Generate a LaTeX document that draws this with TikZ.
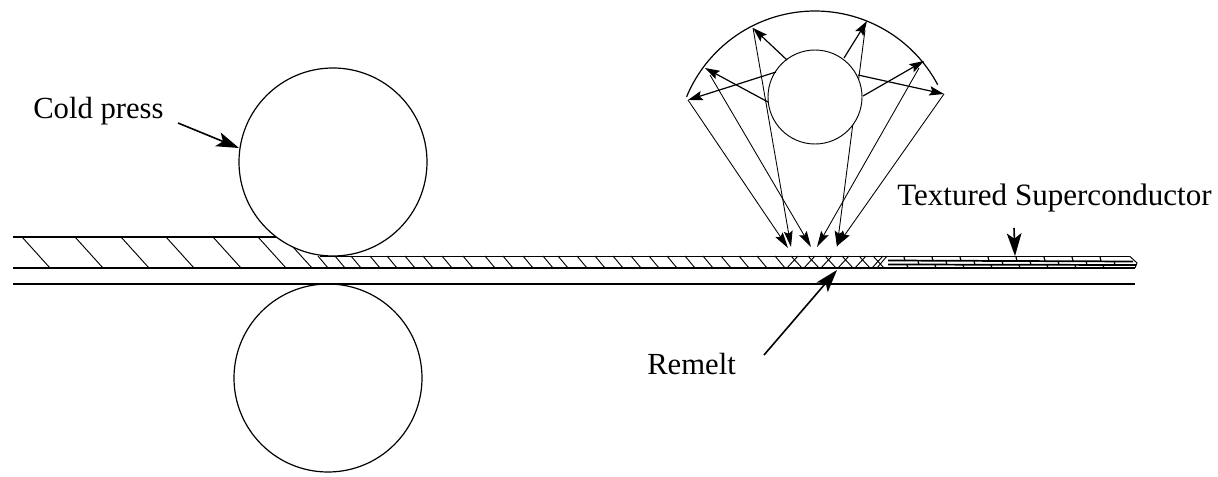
\documentclass[tikz,border=0pt]{standalone}
\usepackage{fontspec}
\setmainfont{Liberation Serif}
\usetikzlibrary{arrows.meta}
\tikzset{
  x=0.75pt,y=-0.75pt,
  ln/.style={line width=1pt,black},
  hatch/.style={line width=0.7pt,black},
  ray/.style={line width=0.9pt,black,-{Stealth[length=11pt,width=7pt,inset=2pt]}},
  fan/.style={line width=0.65pt,black,-{Stealth[length=12pt,width=6.5pt,inset=2pt]}},
  lead/.style={line width=1.2pt,black,-{Stealth[length=17pt,width=11pt,inset=4pt]}},
  lbl/.style={inner sep=0pt,font=\fontsize{23}{26}\selectfont},
}
\begin{document}
\begin{tikzpicture}
\useasboundingbox (0,0) rectangle (1218,477);
% rollers
\node[circle,draw,line width=0.9pt,minimum size=141pt,inner sep=0pt] (upper) at (333,162) {};
\node[circle,draw,line width=0.9pt,minimum size=141pt,inner sep=0pt] (lower) at (328,378) {};
% strip
\draw[ln] (13,237) -- (276,237);
\draw[ln] (320,256.5) -- (1130,256.5);
\draw[ln] (13,268) -- (1135,268);
\draw[ln] (13,284) -- (1135,284);
% coarse hatching
\foreach \b in {50,103,149,194,241,286}
  \draw[hatch] (\b-28,237) -- (\b,268);
\draw[hatch] (293,247) -- (312,268);
% fine hatching
\foreach \b in {328,345,361,380,397,415,433,452,473,495,513,533,553,568,587,605,623,...,785}
  \draw[hatch] (\b-10,256) -- (\b,268);
% cross hatching
\foreach \b in {802,819,836,853,870,884}
  \draw[hatch] (\b-11,256) -- (\b,268);
\foreach \b in {787,804,821,838,855,872}
  \draw[hatch] (\b+11,256) -- (\b,268);
\draw[hatch] (887,256) -- (877,268);
% textured part
\draw[line width=1.3pt] (888,260.5) -- (1133,261.5);
\draw[line width=1.3pt] (888,264.5) -- (1136,265);
\draw[hatch] (1130,256.5) -- (1137,263) -- (1135,268);
\foreach \t in {904,932,960,988,1016,1044,1072,1100}
  \draw[line width=0.9pt] (\t,257) -- (\t+1,261);
\foreach \t in {918,946,974,1002,1030,1058,1086,1114}
  \draw[line width=0.9pt] (\t,261) -- (\t+1,265);
\foreach \t in {904,932,960,988,1016,1044,1072,1100}
  \draw[line width=0.9pt] (\t+3,265) -- (\t+4,268);
% reflector
\coordinate (a1) at (688,100); \coordinate (a2) at (705,68);
\coordinate (a3) at (753,28);  \coordinate (a4) at (867,21);
\coordinate (a5) at (924,61);  \coordinate (a6) at (944,94);
\coordinate (s1) at (710,75);  \coordinate (s4) at (865,30);
\coordinate (s5) at (919,68);
\coordinate (t1) at (788,248); \coordinate (t2) at (811,247);
\coordinate (t3) at (791,247); \coordinate (t4) at (837,247);
\coordinate (t5) at (817,247); \coordinate (t6) at (837,246);
\draw[line width=0.9pt,domain=157.5:28,samples=60,variable=\q]
  plot ({815+139*cos(\q)},{150-139*sin(\q)});
\draw[fan] (a1) -- (t1);
\draw[fan] (s1) -- (t2);
\draw[fan] (a3) -- (t3);
\draw[fan] (s4) -- (t4);
\draw[fan] (s5) -- (t5);
\draw[fan] (a6) -- (t6);
% source
\node[circle,draw,fill=white,line width=0.7pt,minimum size=70.5pt,inner sep=0pt] (src) at (815,97) {};
\coordinate (r1) at (776,72); \coordinate (r2) at (768,102);
\coordinate (r3) at (787,60); \coordinate (r4) at (844,58);
\coordinate (r5) at (863,96); \coordinate (r6) at (858,75);
\draw[ray] (r1) -- (a1);
\draw[ray] (r2) -- (a2);
\draw[ray] (r3) -- (a3);
\draw[ray] (r4) -- (a4);
\draw[ray] (r5) -- (a5);
\draw[ray] (r6) -- (a6);
% labels
\node[lbl,anchor=base west] (cold) at (33,119) {Cold press};
\node[lbl,anchor=base west] (remelt) at (647,374) {Remelt};
\node[lbl,anchor=base west,font=\fontsize{23.3}{26}\selectfont] (tex) at (897,206) {Textured Superconductor};
\coordinate (c0) at (178,123); \coordinate (c1) at (239,148);
\coordinate (m0) at (764,355); \coordinate (m1) at (837,270);
\coordinate (x0) at (1014,228); \coordinate (x1) at (1015,256);
\draw[lead] (c0) -- (c1);
\draw[lead] (m0) -- (m1);
\draw[lead] (x0) -- (x1);
\end{tikzpicture}
\end{document}
